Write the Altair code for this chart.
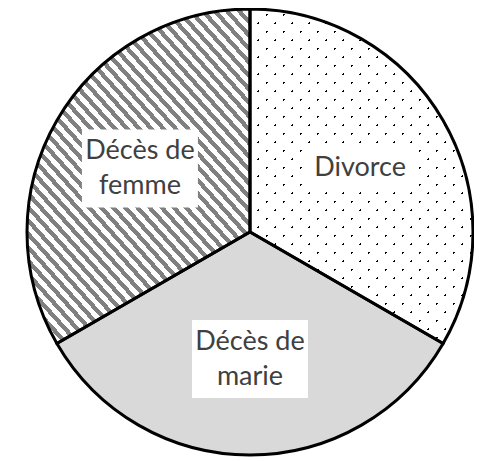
import math
import altair as alt
import pandas as pd

# ---- data (three equal slices of 120 degrees) ----
categories = ["Divorce", "Décès de marie", "Décès de femme"]
values = [33.3, 33.3, 33.3]

df = pd.DataFrame({"category": categories, "value": values})

# ---- layout / style ----
W = H = 446          # plot area; data unit 1 == R pixels
R = 223              # pie radius in pixels
LABEL_R = 0.57       # label distance from centre, in radii
FONT = "Lato"
FONT_SIZE = 27
LINE_H = 35
TEXT_COLOR = "#404040"
HATCH_COLOR = "#808080"
MARIE_COLOR = "#d9d9d9"


def sector_bbox(a0, a1, r):
    """bbox (w, h) of a pie sector; angles in degrees clockwise from north."""
    pts = [(0.0, 0.0)]
    angs = [a0, a1] + [a for a in (0, 90, 180, 270, 360) if a0 < a < a1]
    for a in angs:
        t = math.radians(a)
        pts.append((r * math.sin(t), -r * math.cos(t)))
    xs = [p[0] for p in pts]
    ys = [p[1] for p in pts]
    return max(xs) - min(xs), max(ys) - min(ys)


def stripe_gradient(w, h, normal, period, band, band_color, gap_color, phase=0.0):
    nx, ny = normal
    n = math.hypot(nx, ny)
    nx, ny = nx / n, ny / n
    corners = [(0, 0), (w, 0), (0, h), (w, h)]
    ts = [cx * nx + cy * ny for cx, cy in corners]
    tmin, tmax = min(ts), max(ts)
    u1 = corners[ts.index(tmin)]
    dt = tmax - tmin
    mx, my = w * nx, h * ny
    mag2 = mx * mx + my * my
    gx, gy = dt * mx / mag2, dt * my / mag2
    v1 = (u1[0] / w, u1[1] / h)
    v2 = (v1[0] + gx, v1[1] + gy)
    stops = [{"offset": 0, "color": gap_color}]
    k = 0
    while True:
        s = (k * period + phase) / dt
        if s > 1:
            break
        e = min(s + band / dt, 1.0)
        s = max(s, 0.0)
        stops += [
            {"offset": round(s, 5), "color": gap_color},
            {"offset": round(s, 5), "color": band_color},
            {"offset": round(e, 5), "color": band_color},
            {"offset": round(e, 5), "color": gap_color},
        ]
        k += 1
    stops.append({"offset": 1, "color": gap_color})
    return {
        "gradient": "linear",
        "x1": round(v1[0], 5), "y1": round(v1[1], 5),
        "x2": round(v2[0], 5), "y2": round(v2[1], 5),
        "stops": stops,
    }


# bounding boxes of the three sectors (equal thirds)
bw_div, bh_div = sector_bbox(0, 120, R)
bw_fem, bh_fem = sector_bbox(240, 360, R)

# dotted fill for "Divorce": black "\" bands on white, then white with clear "/" bands
P_DOT = 17 / math.sqrt(2)
dots_a = stripe_gradient(bw_div, bh_div, (1, -1), P_DOT, 1.6, "#000000", "#ffffff", 3.0)
dots_b = stripe_gradient(bw_div, bh_div, (1, 1), P_DOT, 1.6,
                         "rgba(255,255,255,0)", "#ffffff", 3.0)
# hatched fill for "Décès de femme": "\" grey stripes, slightly steeper than 45 deg
HATCH_ANGLE = math.radians(48)
hatch = stripe_gradient(bw_fem, bh_fem, (math.sin(HATCH_ANGLE), -math.cos(HATCH_ANGLE)),
                        9.0, 4.3, HATCH_COLOR, "#ffffff")

base = alt.Chart(df).transform_window(idx="row_number()")

arc_enc = dict(
    theta=alt.Theta("value:Q", stack=True),
    order=alt.Order("idx:Q"),
)


def only(cat):
    return alt.condition(alt.datum.category == cat, alt.value(1), alt.value(0))


div_a = base.mark_arc(radius=R, fill=dots_a, strokeWidth=0).encode(
    opacity=only("Divorce"), **arc_enc)
div_b = base.mark_arc(radius=R, fill=dots_b, strokeWidth=0).encode(
    opacity=only("Divorce"), **arc_enc)
marie = base.mark_arc(radius=R, fill=MARIE_COLOR, strokeWidth=0).encode(
    opacity=only("Décès de marie"), **arc_enc)
femme = base.mark_arc(radius=R, fill=hatch, strokeWidth=0).encode(
    opacity=only("Décès de femme"), **arc_enc)
outline = base.mark_arc(radius=R, stroke="#000000", strokeWidth=3,
                        fillOpacity=0).encode(**arc_enc)

xs = alt.Scale(domain=[-1, 1], nice=False, zero=False)
ys = alt.Scale(domain=[-1, 1], nice=False, zero=False)

lab = (
    base.transform_joinaggregate(total="sum(value)")
    .transform_window(cum="sum(value)", sort=[alt.SortField("idx")], frame=[None, 0])
    .transform_calculate(
        mid="(datum.cum - datum.value / 2) / datum.total * 2 * PI",
        label="replace(datum.category, 'de ', 'de\\n')",
    )
    .transform_calculate(
        lx=f"{LABEL_R} * sin(datum.mid)",
        ly=f"{LABEL_R} * cos(datum.mid)",
        nl="indexof(datum.label, '\\n') >= 0 ? 2 : 1",
    )
    .transform_calculate(
        ty=f"datum.ly + (datum.nl - 1) * {LINE_H} / 2 / {R}",
        bx0=f"datum.lx - 58 / {R}",
        bx1=f"datum.lx + 58 / {R}",
        by0=f"datum.ly - ({LINE_H} * datum.nl + 8) / 2 / {R}",
        by1=f"datum.ly + ({LINE_H} * datum.nl + 8) / 2 / {R}",
    )
)

boxes = lab.mark_rect(fill="#ffffff", strokeWidth=0).encode(
    x=alt.X("bx0:Q", scale=xs, axis=None),
    x2="bx1:Q",
    y=alt.Y("by0:Q", scale=ys, axis=None),
    y2="by1:Q",
)
texts = lab.mark_text(
    font=FONT, fontSize=FONT_SIZE, color=TEXT_COLOR, lineBreak="\n",
    lineHeight=LINE_H, align="center", baseline="middle",
).encode(
    x=alt.X("lx:Q", scale=xs, axis=None),
    y=alt.Y("ty:Q", scale=ys, axis=None),
    text="label:N",
)

chart = (
    alt.layer(div_a, div_b, marie, femme, boxes, texts, outline)
    .properties(
        width=W, height=H, autosize="none",
        padding={"left": 19, "top": 1, "right": 1, "bottom": 2},
        background="#ffffff",
    )
    .configure_view(strokeWidth=0)
)

chart.save("out.html", embed_options={"renderer": "svg", "actions": False})
